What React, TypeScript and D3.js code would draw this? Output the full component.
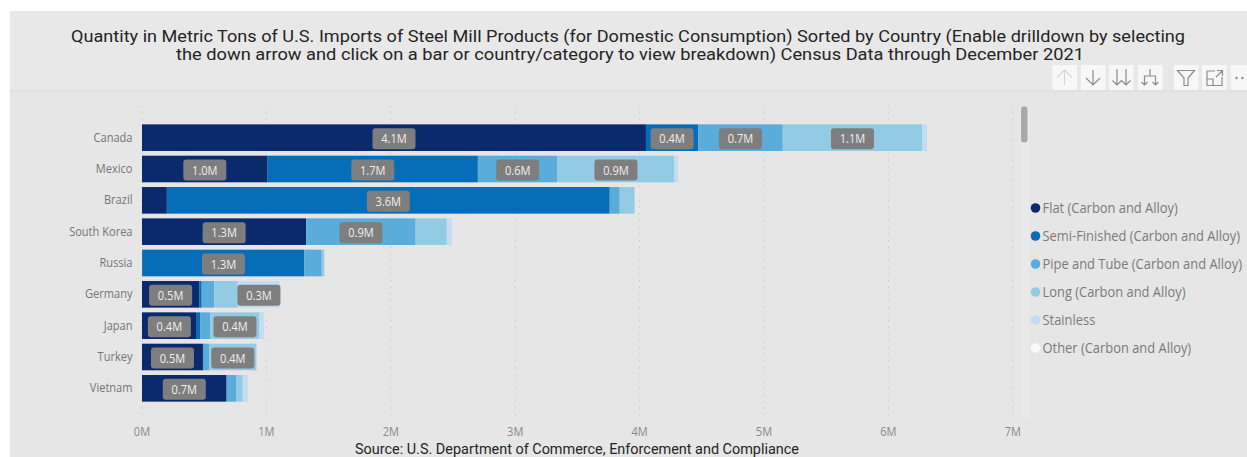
import React from "react";
import * as d3 from "d3";

// Import quantities in millions of metric tons, per product group.
const countries = ["Canada", "Mexico", "Brazil", "South Korea", "Russia", "Germany", "Japan", "Turkey", "Vietnam"];
const flat = [4.051, 1.01, 0.2, 1.32, 0.005, 0.46, 0.44, 0.49, 0.68];
const semiFinished = [0.42, 1.69, 3.56, 0, 1.3, 0.02, 0.03, 0.005, 0];
const pipeAndTube = [0.68, 0.64, 0.08, 0.88, 0.14, 0.1, 0.08, 0.045, 0.08];
const long = [1.12, 0.94, 0.12, 0.25, 0.02, 0.19, 0.395, 0.38, 0.05];
const stainless = [0.04, 0.03, 0, 0.04, 0, 0.34, 0.035, 0.005, 0.04];
const other = [0, 0, 0, 0, 0, 0, 0, 0, 0];

const seriesNames = [
  "Flat (Carbon and Alloy)",
  "Semi-Finished (Carbon and Alloy)",
  "Pipe and Tube (Carbon and Alloy)",
  "Long (Carbon and Alloy)",
  "Stainless",
  "Other (Carbon and Alloy)",
];
const seriesValues = [flat, semiFinished, pipeAndTube, long, stainless, other];
const seriesColors = ["#0b2a6e", "#066db8", "#5aaddb", "#94cbe4", "#c3dcf2", "#f6fbff"];

const titleLines = [
  "Quantity in Metric Tons of U.S. Imports of Steel Mill Products (for Domestic Consumption) Sorted by Country (Enable drilldown by selecting",
  "the down arrow and click on a bar or country/category to view breakdown) Census Data through December 2021",
];
const sourceNote = "Source: U.S. Department of Commerce, Enforcement and Compliance";

const LABEL_MIN = 0.3;
const uiFont = "'Open Sans', sans-serif";
const headFont = "Roboto, sans-serif";

// Toolbar glyphs, drawn in a 24x25 button box.
const toolbarIcons = [
  { x: 1052.5, stroke: "#d4d4d4", d: "M12 5V20M5 12L12 5L19 12" },
  { x: 1081, stroke: "#8c8c8c", d: "M12 5V20M5 13L12 20L19 13" },
  { x: 1109, stroke: "#8c8c8c", d: "M8 4V20M3.5 15.5L8 20L12.5 15.5M17 4V20M12.5 15.5L17 20L21.5 15.5" },
  { x: 1138, stroke: "#8c8c8c", d: "M12 4V11M6.5 20V11H17.5V20M3.5 17L6.5 20L9.5 17M14.5 17L17.5 20L20.5 17" },
  { x: 1174, stroke: "#8c8c8c", d: "M3.5 5.5H20.5L14 13V20.5H10V13Z" },
  { x: 1202, stroke: "#8c8c8c", d: "M13 6H5V20.5H20V12M5 14H11V20.5M15 5.5H20.5V11M20.5 5.5L14 12" },
];

export default function App() {
  const x = d3.scaleLinear().domain([0, 7]).range([142, 1012.8]);
  const y = d3.scaleBand<string>().domain(countries).range([122, 404]).paddingInner(0.15).paddingOuter(0.075);

  const rows = countries.map((c, i) => {
    const row: Record<string, number | string> = { country: c };
    seriesNames.forEach((s, k) => (row[s] = seriesValues[k][i]));
    return row;
  });
  const stacked = d3.stack<any>().keys(seriesNames)(rows);
  const fmt = d3.format(".1f");

  return (
    <svg width={1247} height={457} style={{ position: "absolute", left: 0, top: 0 }}>
      <rect x={10} y={11} width={1237} height={446} fill="#e6e6e6" />
      <rect x={10} y={11} width={1237} height={80} fill="#e8e8e8" />
      <rect x={10} y={90} width={1237} height={2} fill="#e2e2e2" />

      {titleLines.map((t, i) => (
        <text
          key={i}
          x={i === 0 ? 71 : 176}
          y={i === 0 ? 42 : 60}
          fontFamily={headFont}
          fontSize={17}
          fill="#242424"
          textLength={i === 0 ? 1114 : 908}
          lengthAdjust="spacingAndGlyphs"
        >
          {t}
        </text>
      ))}

      {toolbarIcons.map((ic) => (
        <g key={ic.x} transform={`translate(${ic.x},65)`}>
          <rect width={24.5} height={25} fill="#f7f7f7" />
          <path d={ic.d} fill="none" stroke={ic.stroke} strokeWidth={1.2} />
        </g>
      ))}
      <g transform="translate(1231,65)">
        <rect width={16} height={25} fill="#f7f7f7" />
        <circle cx={5.5} cy={13} r={1.2} fill="#8c8c8c" />
        <circle cx={11.5} cy={13} r={1.2} fill="#8c8c8c" />
      </g>

      {x.ticks(7).map((t) => (
        <g key={t}>
          <line
            x1={x(t)}
            x2={x(t)}
            y1={106}
            y2={418}
            stroke="#bdbdbd"
            strokeWidth={1}
            strokeDasharray="1 5.7"
          />
          <text
            transform={`translate(${x(t)},436) scale(0.82,1)`}
            textAnchor="middle"
            fontFamily={uiFont}
            fontSize={13.5}
            fill="#8a8a8a"
          >
            {`${t}M`}
          </text>
        </g>
      ))}

      {countries.map((c) => (
        <text
          key={c}
          transform={`translate(132.5,${y(c)! + y.bandwidth() / 2 + 4}) scale(0.82,1)`}
          textAnchor="end"
          fontFamily={uiFont}
          fontSize={13.5}
          fill="#757575"
        >
          {c}
        </text>
      ))}

      {stacked.map((layer, k) => (
        <g key={layer.key} fill={seriesColors[k]}>
          {layer.map((d, i) => (
            <rect
              key={i}
              x={x(d[0])}
              y={y(countries[i])}
              width={x(d[1]) - x(d[0])}
              height={y.bandwidth()}
            />
          ))}
        </g>
      ))}

      {stacked.map((layer) =>
        layer.map((d, i) => {
          const v = d[1] - d[0];
          if (v < LABEL_MIN) return null;
          const cx = (x(d[0]) + x(d[1])) / 2;
          const cy = y(countries[i])! + y.bandwidth() / 2 + 1;
          return (
            <g key={`${layer.key}-${i}`}>
              <rect x={cx - 21.5} y={cy - 10.5} width={43} height={21} rx={3} fill="#7e7e7e" />
              <text
                transform={`translate(${cx},${cy + 4.8}) scale(0.82,1)`}
                textAnchor="middle"
                fontFamily={uiFont}
                fontSize={13.5}
                fill="#efefef"
              >
                {`${fmt(v)}M`}
              </text>
            </g>
          );
        })
      )}

      {/* Legend scroll track and thumb */}
      <rect x={1021} y={106} width={8} height={314} rx={2} fill="#e9e9e9" />
      <rect x={1020.5} y={106} width={7.5} height={37} rx={3} fill="#a9a9a9" stroke="#f4f4f4" strokeWidth={0.8} />

      {seriesNames.map((s, k) => {
        const ly = 208 + k * 28;
        return (
          <g key={s}>
            <circle cx={1035.5} cy={ly} r={4.8} fill={seriesColors[k]} />
            <text
              transform={`translate(1042.5,${ly + 5}) scale(0.922,1)`}
              fontFamily={uiFont}
              fontSize={14}
              fill="#7a7a7a"
            >
              {s}
            </text>
          </g>
        );
      })}

      <text
        x={355}
        y={454}
        fontFamily={headFont}
        fontSize={14.5}
        fill="#242424"
        textLength={444}
        lengthAdjust="spacingAndGlyphs"
      >
        {sourceNote}
      </text>
    </svg>
  );
}
